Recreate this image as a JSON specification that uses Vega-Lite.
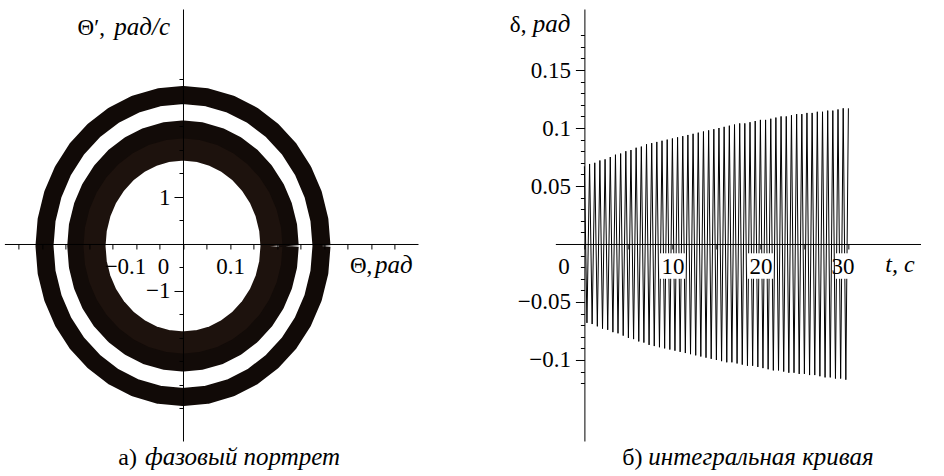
{
  "$schema": "https://vega.github.io/schema/vega-lite/v6.json",
  "background": "white",
  "padding": {"left": 4.4, "top": 9, "right": 0, "bottom": 0},
  "config": {
    "view": {"stroke": null},
    "axis": {"domainColor": "black", "tickColor": "black", "labelColor": "black", "labelFont": "Liberation Serif", "labelFontSize": 23, "grid": false, "domainWidth": 1, "tickWidth": 1, "labelOverlap": false, "labelFlush": false},
    "text": {"font": "Liberation Serif", "fontSize": 23, "color": "black"}
  },
  "datasets": {
    "rings": [
      {"ring":"O","k":0,"x":0.2947,"y":-0.043},{"ring":"O","k":1,"x":0.2902,"y":0.5148},{"ring":"O","k":2,"x":0.2769,"y":1.0558},{"ring":"O","k":3,"x":0.2552,"y":1.5635},{"ring":"O","k":4,"x":0.2257,"y":2.0223},{"ring":"O","k":5,"x":0.1894,"y":2.4182},{"ring":"O","k":6,"x":0.1474,"y":2.7395},{"ring":"O","k":7,"x":0.1008,"y":2.9763},{"ring":"O","k":8,"x":0.0512,"y":3.1212},{"ring":"O","k":9,"x":0,"y":3.17},
      {"ring":"O","k":10,"x":-0.0512,"y":3.1212},{"ring":"O","k":11,"x":-0.1008,"y":2.9763},{"ring":"O","k":12,"x":-0.1474,"y":2.7395},{"ring":"O","k":13,"x":-0.1894,"y":2.4182},{"ring":"O","k":14,"x":-0.2257,"y":2.0223},{"ring":"O","k":15,"x":-0.2552,"y":1.5635},{"ring":"O","k":16,"x":-0.2769,"y":1.0558},{"ring":"O","k":17,"x":-0.2902,"y":0.5148},{"ring":"O","k":18,"x":-0.2947,"y":-0.043},
      {"ring":"O","k":19,"x":-0.2902,"y":-0.6008},{"ring":"O","k":20,"x":-0.2769,"y":-1.1418},{"ring":"O","k":21,"x":-0.2552,"y":-1.6495},{"ring":"O","k":22,"x":-0.2257,"y":-2.1083},{"ring":"O","k":23,"x":-0.1894,"y":-2.5042},{"ring":"O","k":24,"x":-0.1474,"y":-2.8255},{"ring":"O","k":25,"x":-0.1008,"y":-3.0623},{"ring":"O","k":26,"x":-0.0512,"y":-3.2072},{"ring":"O","k":27,"x":0,"y":-3.256},
      {"ring":"O","k":28,"x":0.0512,"y":-3.2072},{"ring":"O","k":29,"x":0.1008,"y":-3.0623},{"ring":"O","k":30,"x":0.1474,"y":-2.8255},{"ring":"O","k":31,"x":0.1894,"y":-2.5042},{"ring":"O","k":32,"x":0.2257,"y":-2.1083},{"ring":"O","k":33,"x":0.2552,"y":-1.6495},{"ring":"O","k":34,"x":0.2769,"y":-1.1418},{"ring":"O","k":35,"x":0.2902,"y":-0.6008},{"ring":"O","k":36,"x":0.2947,"y":-0.043},

      {"ring":"I1","k":0,"x":0.225,"y":-0.043},{"ring":"I1","k":1,"x":0.2216,"y":0.3835},{"ring":"I1","k":2,"x":0.2114,"y":0.7973},{"ring":"I1","k":3,"x":0.1949,"y":1.1855},{"ring":"I1","k":4,"x":0.1724,"y":1.5364},{"ring":"I1","k":5,"x":0.1446,"y":1.8391},{"ring":"I1","k":6,"x":0.1125,"y":2.0848},{"ring":"I1","k":7,"x":0.077,"y":2.2658},{"ring":"I1","k":8,"x":0.0391,"y":2.3766},{"ring":"I1","k":9,"x":0,"y":2.414},
      {"ring":"I1","k":10,"x":-0.0391,"y":2.3766},{"ring":"I1","k":11,"x":-0.077,"y":2.2658},{"ring":"I1","k":12,"x":-0.1125,"y":2.0848},{"ring":"I1","k":13,"x":-0.1446,"y":1.8391},{"ring":"I1","k":14,"x":-0.1724,"y":1.5364},{"ring":"I1","k":15,"x":-0.1949,"y":1.1855},{"ring":"I1","k":16,"x":-0.2114,"y":0.7973},{"ring":"I1","k":17,"x":-0.2216,"y":0.3835},{"ring":"I1","k":18,"x":-0.225,"y":-0.043},
      {"ring":"I1","k":19,"x":-0.2216,"y":-0.4695},{"ring":"I1","k":20,"x":-0.2114,"y":-0.8833},{"ring":"I1","k":21,"x":-0.1949,"y":-1.2715},{"ring":"I1","k":22,"x":-0.1724,"y":-1.6224},{"ring":"I1","k":23,"x":-0.1446,"y":-1.9251},{"ring":"I1","k":24,"x":-0.1125,"y":-2.1708},{"ring":"I1","k":25,"x":-0.077,"y":-2.3518},{"ring":"I1","k":26,"x":-0.0391,"y":-2.4626},{"ring":"I1","k":27,"x":0,"y":-2.5},
      {"ring":"I1","k":28,"x":0.0391,"y":-2.4626},{"ring":"I1","k":29,"x":0.077,"y":-2.3518},{"ring":"I1","k":30,"x":0.1125,"y":-2.1708},{"ring":"I1","k":31,"x":0.1446,"y":-1.9251},{"ring":"I1","k":32,"x":0.1724,"y":-1.6224},{"ring":"I1","k":33,"x":0.1949,"y":-1.2715},{"ring":"I1","k":34,"x":0.2114,"y":-0.8833},{"ring":"I1","k":35,"x":0.2216,"y":-0.4695},{"ring":"I1","k":36,"x":0.225,"y":-0.043},

      {"ring":"I2","k":0,"x":0.1883,"y":-0.043},{"ring":"I2","k":1,"x":0.1854,"y":0.3134},{"ring":"I2","k":2,"x":0.1769,"y":0.6591},{"ring":"I2","k":3,"x":0.1631,"y":0.9835},{"ring":"I2","k":4,"x":0.1442,"y":1.2767},{"ring":"I2","k":5,"x":0.121,"y":1.5296},{"ring":"I2","k":6,"x":0.0942,"y":1.7349},{"ring":"I2","k":7,"x":0.0644,"y":1.8862},{"ring":"I2","k":8,"x":0.0327,"y":1.9788},{"ring":"I2","k":9,"x":0,"y":2.01},
      {"ring":"I2","k":10,"x":-0.0327,"y":1.9788},{"ring":"I2","k":11,"x":-0.0644,"y":1.8862},{"ring":"I2","k":12,"x":-0.0942,"y":1.7349},{"ring":"I2","k":13,"x":-0.121,"y":1.5296},{"ring":"I2","k":14,"x":-0.1442,"y":1.2767},{"ring":"I2","k":15,"x":-0.1631,"y":0.9835},{"ring":"I2","k":16,"x":-0.1769,"y":0.6591},{"ring":"I2","k":17,"x":-0.1854,"y":0.3134},{"ring":"I2","k":18,"x":-0.1883,"y":-0.043},
      {"ring":"I2","k":19,"x":-0.1854,"y":-0.3994},{"ring":"I2","k":20,"x":-0.1769,"y":-0.7451},{"ring":"I2","k":21,"x":-0.1631,"y":-1.0695},{"ring":"I2","k":22,"x":-0.1442,"y":-1.3627},{"ring":"I2","k":23,"x":-0.121,"y":-1.6156},{"ring":"I2","k":24,"x":-0.0942,"y":-1.8209},{"ring":"I2","k":25,"x":-0.0644,"y":-1.9722},{"ring":"I2","k":26,"x":-0.0327,"y":-2.0648},{"ring":"I2","k":27,"x":0,"y":-2.096},
      {"ring":"I2","k":28,"x":0.0327,"y":-2.0648},{"ring":"I2","k":29,"x":0.0644,"y":-1.9722},{"ring":"I2","k":30,"x":0.0942,"y":-1.8209},{"ring":"I2","k":31,"x":0.121,"y":-1.6156},{"ring":"I2","k":32,"x":0.1442,"y":-1.3627},{"ring":"I2","k":33,"x":0.1631,"y":-1.0695},{"ring":"I2","k":34,"x":0.1769,"y":-0.7451},{"ring":"I2","k":35,"x":0.1854,"y":-0.3994},{"ring":"I2","k":36,"x":0.1883,"y":-0.043}
    ],
    "delta": [
      {"t":0,"d":0.067},{"t":0.29,"d":-0.068},{"t":0.59,"d":0.069},{"t":0.88,"d":-0.069},{"t":1.18,"d":0.07},{"t":1.47,"d":-0.071},{"t":1.76,"d":0.072},{"t":2.06,"d":-0.073},{"t":2.35,"d":0.073},{"t":2.65,"d":-0.074},
      {"t":2.94,"d":0.075},{"t":3.24,"d":-0.076},{"t":3.53,"d":0.077},{"t":3.82,"d":-0.077},{"t":4.12,"d":0.078},{"t":4.41,"d":-0.079},{"t":4.71,"d":0.08},{"t":5.0,"d":-0.081},{"t":5.29,"d":0.081},{"t":5.59,"d":-0.082},
      {"t":5.88,"d":0.083},{"t":6.18,"d":-0.084},{"t":6.47,"d":0.084},{"t":6.76,"d":-0.085},{"t":7.06,"d":0.086},{"t":7.35,"d":-0.087},{"t":7.65,"d":0.087},{"t":7.94,"d":-0.088},{"t":8.23,"d":0.088},{"t":8.53,"d":-0.089},
      {"t":8.82,"d":0.089},{"t":9.12,"d":-0.09},{"t":9.41,"d":0.09},{"t":9.71,"d":-0.091},{"t":10.0,"d":0.091},{"t":10.29,"d":-0.092},{"t":10.59,"d":0.092},{"t":10.88,"d":-0.093},{"t":11.18,"d":0.093},{"t":11.47,"d":-0.094},
      {"t":11.76,"d":0.094},{"t":12.06,"d":-0.095},{"t":12.35,"d":0.095},{"t":12.65,"d":-0.096},{"t":12.94,"d":0.096},{"t":13.23,"d":-0.097},{"t":13.53,"d":0.097},{"t":13.82,"d":-0.098},{"t":14.12,"d":0.098},{"t":14.41,"d":-0.099},
      {"t":14.71,"d":0.099},{"t":15.0,"d":-0.1},{"t":15.29,"d":0.1},{"t":15.59,"d":-0.101},{"t":15.88,"d":0.101},{"t":16.18,"d":-0.102},{"t":16.47,"d":0.102},{"t":16.76,"d":-0.102},{"t":17.06,"d":0.103},{"t":17.35,"d":-0.103},
      {"t":17.65,"d":0.104},{"t":17.94,"d":-0.104},{"t":18.23,"d":0.104},{"t":18.53,"d":-0.105},{"t":18.82,"d":0.105},{"t":19.12,"d":-0.105},{"t":19.41,"d":0.106},{"t":19.71,"d":-0.106},{"t":20.0,"d":0.107},{"t":20.29,"d":-0.107},
      {"t":20.59,"d":0.107},{"t":20.88,"d":-0.108},{"t":21.18,"d":0.108},{"t":21.47,"d":-0.109},{"t":21.76,"d":0.109},{"t":22.06,"d":-0.109},{"t":22.35,"d":0.11},{"t":22.65,"d":-0.11},{"t":22.94,"d":0.11},{"t":23.23,"d":-0.111},
      {"t":23.53,"d":0.111},{"t":23.82,"d":-0.111},{"t":24.12,"d":0.112},{"t":24.41,"d":-0.112},{"t":24.71,"d":0.112},{"t":25.0,"d":-0.112},{"t":25.29,"d":0.113},{"t":25.59,"d":-0.113},{"t":25.88,"d":0.113},{"t":26.18,"d":-0.113},
      {"t":26.47,"d":0.114},{"t":26.76,"d":-0.114},{"t":27.06,"d":0.114},{"t":27.35,"d":-0.115},{"t":27.65,"d":0.115},{"t":27.94,"d":-0.115},{"t":28.23,"d":0.115},{"t":28.53,"d":-0.116},{"t":28.82,"d":0.116},{"t":29.12,"d":-0.116},
      {"t":29.41,"d":0.117},{"t":29.71,"d":-0.117},{"t":30.0,"d":0.117}
    ]
  },
  "spacing": 136.96,
  "bounds": "flush",
  "hconcat": [
    {
      "width": 413.6,
      "height": 432,
      "resolve": {"axis": {"x": "independent", "y": "independent"}},
      "layer": [
        {
          "data": {"name": "rings"},
          "mark": {"type": "line", "strokeJoin": "round"},
          "encoding": {
            "x": {"field": "x", "type": "quantitative", "title": null,
              "scale": {"domain": [-0.38, 0.5], "nice": false, "zero": false},
              "axis": {"orient": "bottom", "offset": -197, "zindex": 1,
                "values": [-0.35,-0.3,-0.25,-0.2,-0.15,-0.1,-0.05,0,0.05,0.1,0.15,0.2,0.25,0.3,0.35,0.4,0.45],
                "labelExpr": "datum.value == 0.1 ? '0.1' : datum.value == -0.1 ? '−0.1' : datum.value == 0 ? '0' : ''",
                "tickSize": 5, "labelPadding": 25, "labelBaseline": "alphabetic", "labelAlign": "center",
                "labelOffset": {"condition": [{"test": "datum.value == 0", "value": -20}, {"test": "datum.value == -0.1", "value": -11}], "value": 0},
                "labelFlush": false, "labelOverlap": false}},
            "y": {"field": "y", "type": "quantitative", "title": null,
              "scale": {"domain": [-4.1915, 5.0], "nice": false, "zero": false},
              "axis": {"orient": "left", "offset": -178.6, "zindex": 1,
                "values": [-3.5,-3,-2.5,-2,-1.5,-1,-0.5,0.5,1,1.5,2,2.5,3,3.5],
                "labelExpr": "datum.value == 1 ? '1' : datum.value == -1 ? '−1' : ''",
                "tickSize": {"condition": {"test": "abs(datum.value) == 1", "value": 9}, "value": 4},
                "labelPadding": 4, "labelBaseline": "middle", "labelFlush": false, "labelOverlap": false}},
            "order": {"field": "k", "type": "quantitative"},
            "detail": {"field": "ring"},
            "color": {"field": "ring", "type": "nominal", "scale": {"domain": ["O", "I1", "I2"], "range": ["#110a07", "#120b08", "#1d120d"]}, "legend": null},
            "strokeWidth": {"field": "ring", "type": "ordinal", "scale": {"domain": ["O", "I1", "I2"], "range": [18, 22, 14]}, "legend": null}
          }
        },
        {"data": {"values": [{}]}, "mark": {"type": "text", "text": "Θ′,", "align": "right", "baseline": "alphabetic"}, "encoding": {"x": {"datum": -0.166, "axis": null}, "y": {"datum": 4.447, "axis": null}}},
        {"data": {"values": [{}]}, "mark": {"type": "text", "text": "рад/с", "fontSize": 25, "fontStyle": "italic", "align": "right", "baseline": "alphabetic"}, "encoding": {"x": {"datum": -0.0277, "axis": null}, "y": {"datum": 4.447, "axis": null}}},
        {"data": {"values": [{}]}, "mark": {"type": "text", "text": "Θ,", "align": "left", "baseline": "alphabetic"}, "encoding": {"x": {"datum": 0.3553, "axis": null}, "y": {"datum": -0.617, "axis": null}}},
        {"data": {"values": [{}]}, "mark": {"type": "text", "text": "рад", "fontSize": 25, "fontStyle": "italic", "align": "left", "baseline": "alphabetic"}, "encoding": {"x": {"datum": 0.4085, "axis": null}, "y": {"datum": -0.617, "axis": null}}},
        {"data": {"values": [{}]}, "mark": {"type": "text", "text": "а)", "fontSize": 24, "align": "right", "baseline": "alphabetic"}, "encoding": {"x": {"datum": -0.0979, "axis": null}, "y": {"datum": -4.702, "axis": null}}},
        {"data": {"values": [{}]}, "mark": {"type": "text", "text": "фазовый портрет", "fontSize": 25, "fontStyle": "italic", "align": "left", "baseline": "alphabetic"}, "encoding": {"x": {"datum": -0.0809, "axis": null}, "y": {"datum": -4.702, "axis": null}}}
      ]
    },
    {
      "width": 365.2,
      "height": 432,
      "resolve": {"axis": {"x": "independent", "y": "independent"}},
      "layer": [
        {
          "data": {"name": "delta"},
          "mark": {"type": "line", "stroke": "black", "strokeWidth": 1},
          "encoding": {
            "x": {"field": "t", "type": "quantitative", "title": null,
              "scale": {"domain": [-3.3, 38.2], "nice": false, "zero": false},
              "axis": {"orient": "bottom", "offset": -197, "zindex": 1,
                "values": [0, 5, 10, 15, 20, 25, 30],
                "labelExpr": "datum.value % 10 == 0 ? format(datum.value, 'd') : ''",
                "tickSize": 5, "labelPadding": 25, "labelBaseline": "alphabetic", "labelAlign": "center",
                "labelOffset": {"condition": [{"test": "datum.value == 0", "value": -21}, {"test": "datum.value == 30", "value": -6}], "value": 0},
                "labelFlush": false, "labelOverlap": false}},
            "y": {"field": "d", "type": "quantitative", "title": null,
              "scale": {"domain": [-0.16983, 0.20259], "nice": false, "zero": false},
              "axis": {"orient": "left", "offset": -29.04, "zindex": 1,
                "values": [-0.12,-0.11,-0.1,-0.09,-0.08,-0.07,-0.06,-0.05,-0.04,-0.03,-0.02,-0.01,0.01,0.02,0.03,0.04,0.05,0.06,0.07,0.08,0.09,0.1,0.11,0.12,0.13,0.14,0.15,0.16,0.17,0.18],
                "labelExpr": "(round(datum.value*100) % 5 == 0) ? replace(format(datum.value, '.2~f'), '-', '−') : ''",
                "tickSize": {"condition": {"test": "round(datum.value*100) % 5 == 0", "value": 9}, "value": 4},
                "labelPadding": 5, "labelBaseline": "middle", "labelFlush": false, "labelOverlap": false}}
          }
        },
        {"data": {"values": [{"t": 10}, {"t": 20}, {"t": 30}]}, "mark": {"type": "square", "color": "white", "opacity": 1, "filled": true, "size": 650}, "encoding": {"x": {"field": "t", "type": "quantitative", "axis": null}, "y": {"datum": -0.019, "axis": null}}},
        {"data": {"values": [{}]}, "mark": {"type": "text", "text": "δ,", "align": "right", "baseline": "alphabetic"}, "encoding": {"x": {"datum": -6.59, "axis": null}, "y": {"datum": 0.1828, "axis": null}}},
        {"data": {"values": [{}]}, "mark": {"type": "text", "text": "рад", "fontSize": 25, "fontStyle": "italic", "align": "right", "baseline": "alphabetic"}, "encoding": {"x": {"datum": -1.591, "axis": null}, "y": {"datum": 0.1828, "axis": null}}},
        {"data": {"values": [{}]}, "mark": {"type": "text", "text": "t, с", "fontSize": 24, "fontStyle": "italic", "align": "left", "baseline": "alphabetic"}, "encoding": {"x": {"datum": 34.2, "axis": null}, "y": {"datum": -0.02414, "axis": null}}},
        {"data": {"values": [{}]}, "mark": {"type": "text", "text": "б)", "fontSize": 24, "align": "right", "baseline": "alphabetic"}, "encoding": {"x": {"datum": 6.59, "axis": null}, "y": {"datum": -0.1905, "axis": null}}},
        {"data": {"values": [{}]}, "mark": {"type": "text", "text": "интегральная кривая", "fontSize": 25, "fontStyle": "italic", "align": "left", "baseline": "alphabetic"}, "encoding": {"x": {"datum": 7.27, "axis": null}, "y": {"datum": -0.1905, "axis": null}}}
      ]
    }
  ]
}
